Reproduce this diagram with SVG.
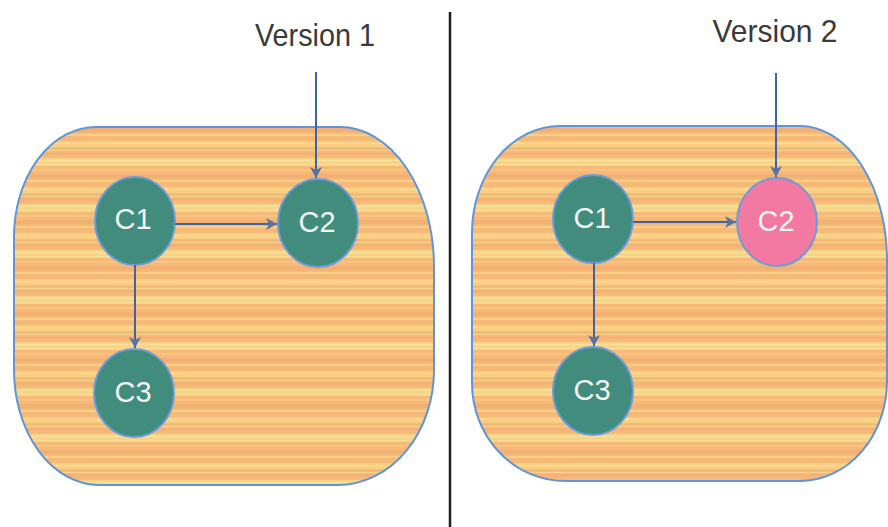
<svg xmlns="http://www.w3.org/2000/svg" width="888" height="527" viewBox="0 0 888 527">
  <style>
    .label { font-family: "Liberation Sans", Arial, sans-serif; font-size: 32px; fill: #3a3a3a; text-anchor: middle; }
    .ctext { font-family: "Liberation Sans", Arial, sans-serif; font-size: 29px; fill: #f2f6f2; text-anchor: middle; }
    .area { fill: url(#stripes); stroke: #5f95dc; stroke-width: 2; }
    .comp { fill: #418c7c; stroke: #6a9cdc; stroke-width: 2; }
    .comp.changed { fill: #f27aa2; }
    .link { stroke: #3f62a8; stroke-width: 2; fill: none; marker-end: url(#head); }
  </style>
  <defs>
    <!-- horizontal orange/yellow banding of the container fill -->
    <pattern id="stripes" patternUnits="userSpaceOnUse" width="40" height="46">
      <rect width="40" height="46" fill="#f6b978"/>
      <rect y="3" width="40" height="6" fill="#f9cf84"/>
      <rect y="5" width="40" height="1" fill="#fbe09a"/>
      <rect y="12" width="40" height="1" fill="#f9d48a"/>
      <rect y="14" width="40" height="3" fill="#f4b276"/>
      <rect y="20" width="40" height="8" fill="#f9d486"/>
      <rect y="22" width="40" height="1" fill="#fce29c"/>
      <rect y="26" width="40" height="1" fill="#fbdd94"/>
      <rect y="31" width="40" height="2" fill="#f8c67e"/>
      <rect y="36" width="40" height="4" fill="#f3b075"/>
      <rect y="42" width="40" height="2" fill="#f9d084"/>
    </pattern>
    <marker id="head" markerUnits="userSpaceOnUse" markerWidth="12" markerHeight="12" refX="11" refY="6" orient="auto">
      <path d="M0,0 L11,6 L0,12 L3,6 Z" fill="#5872a6"/>
    </marker>
  </defs>

  <rect width="888" height="527" fill="#ffffff"/>

  <!-- divider between the two versions -->
  <line x1="450" y1="12" x2="450" y2="527" stroke="#1e1e1e" stroke-width="2.5"/>

  <!-- left side: version 1 -->
  <g id="container-v1">
    <path class="area" d="M96 127 H340 A94 140 0 0 1 434 267 V370 A96 115 0 0 1 338 485 H99 A85 115 0 0 1 14 370 V237 A82 110 0 0 1 96 127 Z"/>
  </g>
  <g id="label-v1">
    <text class="label" x="315" y="46" textLength="120" lengthAdjust="spacingAndGlyphs">Version 1</text>
  </g>
  <g id="v1-c1">
    <ellipse class="comp" cx="135" cy="221" rx="40" ry="44"/>
    <text class="ctext" x="133" y="229">C1</text>
  </g>
  <g id="v1-c2">
    <ellipse class="comp" cx="318" cy="223" rx="40" ry="44"/>
    <text class="ctext" x="317" y="232">C2</text>
  </g>
  <g id="v1-c3">
    <ellipse class="comp" cx="134" cy="393" rx="40" ry="44"/>
    <text class="ctext" x="133" y="402">C3</text>
  </g>

  <!-- right side: version 2 -->
  <g id="container-v2">
    <path class="area" d="M560 126 H800 A87 134 0 0 1 887 260 V380 A87 100 0 0 1 800 481 H565 A93 98 0 0 1 472 383 V233 A88 107 0 0 1 560 126 Z"/>
  </g>
  <g id="label-v2">
    <text class="label" x="775" y="42" textLength="125" lengthAdjust="spacingAndGlyphs">Version 2</text>
  </g>
  <g id="v2-c1">
    <ellipse class="comp" cx="593" cy="219" rx="40" ry="44"/>
    <text class="ctext" x="592" y="228">C1</text>
  </g>
  <g id="v2-c2">
    <ellipse class="comp changed" cx="777" cy="222" rx="40" ry="44"/>
    <text class="ctext" x="776" y="231">C2</text>
  </g>
  <g id="v2-c3">
    <ellipse class="comp" cx="593" cy="391" rx="40" ry="44"/>
    <text class="ctext" x="592" y="400">C3</text>
  </g>

  <!-- connectors -->
  <g id="connectors">
    <line class="link" x1="316" y1="72" x2="316" y2="178"/>
    <line class="link" x1="175" y1="224" x2="277" y2="224"/>
    <line class="link" x1="135" y1="265" x2="135" y2="348"/>
    <line class="link" x1="776" y1="73" x2="776" y2="177"/>
    <line class="link" x1="633" y1="222" x2="736" y2="222"/>
    <line class="link" x1="594" y1="263" x2="594" y2="346"/>
  </g>
</svg>
